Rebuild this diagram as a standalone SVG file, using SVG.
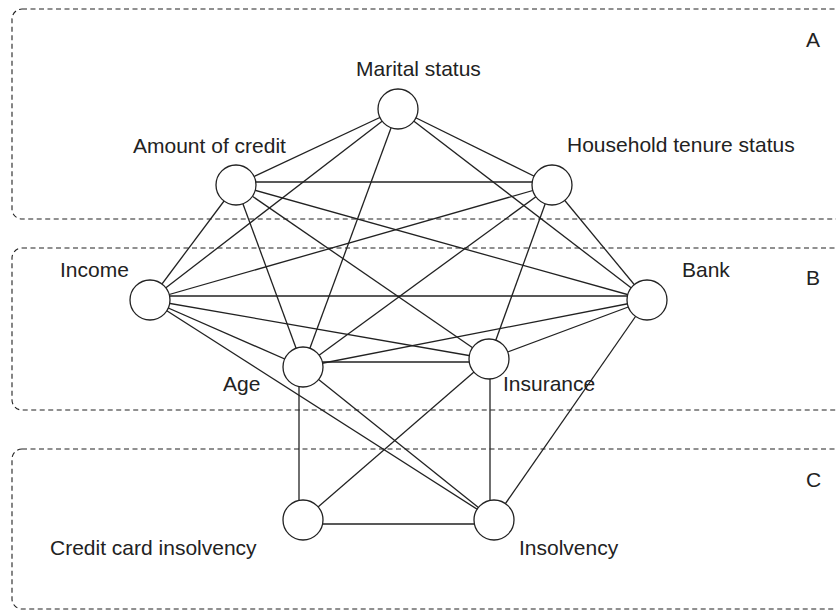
<svg xmlns="http://www.w3.org/2000/svg" width="836" height="610" viewBox="0 0 836 610">
<style>
.zone{fill:none;stroke:#222;stroke-width:1.1;stroke-dasharray:5 3.5}
.e{stroke:#222;stroke-width:1.3;fill:none}
.n{fill:#fff;stroke:#222;stroke-width:1.3}
text{font-family:"Liberation Sans",Arial,sans-serif;font-size:21px;fill:#222}
</style>
<rect width="836" height="610" fill="#fff"/>
<g id="zones">
<rect class="zone" x="12" y="9" width="833" height="210" rx="10"/>
<rect class="zone" x="12" y="248" width="833" height="162" rx="10"/>
<rect class="zone" x="12" y="449" width="833" height="160" rx="10"/>
<text x="806" y="47">A</text>
<text x="806" y="285">B</text>
<text x="806" y="487">C</text>
</g>
<g id="connectors">
<line class="e" x1="398" y1="109" x2="236" y2="185"/>
<line class="e" x1="398" y1="109" x2="150" y2="300"/>
<line class="e" x1="398" y1="109" x2="303" y2="367"/>
<line class="e" x1="398" y1="109" x2="552" y2="185"/>
<line class="e" x1="398" y1="109" x2="647" y2="300"/>
<line class="e" x1="236" y1="182" x2="552" y2="182"/>
<line class="e" x1="236" y1="185" x2="647" y2="300"/>
<line class="e" x1="236" y1="185" x2="489" y2="359"/>
<line class="e" x1="236" y1="185" x2="150" y2="300"/>
<line class="e" x1="236" y1="185" x2="303" y2="367"/>
<line class="e" x1="552" y1="185" x2="150" y2="300"/>
<line class="e" x1="552" y1="185" x2="303" y2="367"/>
<line class="e" x1="552" y1="185" x2="489" y2="359"/>
<line class="e" x1="552" y1="185" x2="647" y2="300"/>
<line class="e" x1="150" y1="296" x2="647" y2="296"/>
<line class="e" x1="150" y1="300" x2="489" y2="359"/>
<line class="e" x1="150" y1="300" x2="303" y2="367"/>
<line class="e" x1="150" y1="300" x2="494" y2="520"/>
<line class="e" x1="647" y1="300" x2="303" y2="367"/>
<line class="e" x1="647" y1="300" x2="489" y2="359"/>
<line class="e" x1="647" y1="300" x2="494" y2="520"/>
<line class="e" x1="303" y1="362" x2="489" y2="362"/>
<line class="e" x1="303" y1="367" x2="494" y2="520"/>
<line class="e" x1="299" y1="367" x2="299" y2="520"/>
<line class="e" x1="489" y1="359" x2="303" y2="520"/>
<line class="e" x1="490" y1="359" x2="490" y2="520"/>
<line class="e" x1="303" y1="524" x2="494" y2="524"/>
</g>
<g id="marital"><circle class="n" cx="398" cy="109" r="20"/><text x="356" y="76">Marital status</text></g>
<g id="credit"><circle class="n" cx="236" cy="185" r="20"/><text x="133" y="153">Amount of credit</text></g>
<g id="household"><circle class="n" cx="552" cy="185" r="20"/><text x="567" y="152">Household tenure status</text></g>
<g id="income"><circle class="n" cx="150" cy="300" r="20"/><text x="60" y="277">Income</text></g>
<g id="bank"><circle class="n" cx="647" cy="300" r="20"/><text x="682" y="277">Bank</text></g>
<g id="age"><circle class="n" cx="303" cy="367" r="20"/><text x="223" y="391">Age</text></g>
<g id="insurance"><circle class="n" cx="489" cy="359" r="20"/><text x="503" y="391">Insurance</text></g>
<g id="cci"><circle class="n" cx="303" cy="520" r="20"/><text x="50" y="555">Credit card insolvency</text></g>
<g id="insolvency"><circle class="n" cx="494" cy="520" r="20"/><text x="519" y="555">Insolvency</text></g>
</svg>
